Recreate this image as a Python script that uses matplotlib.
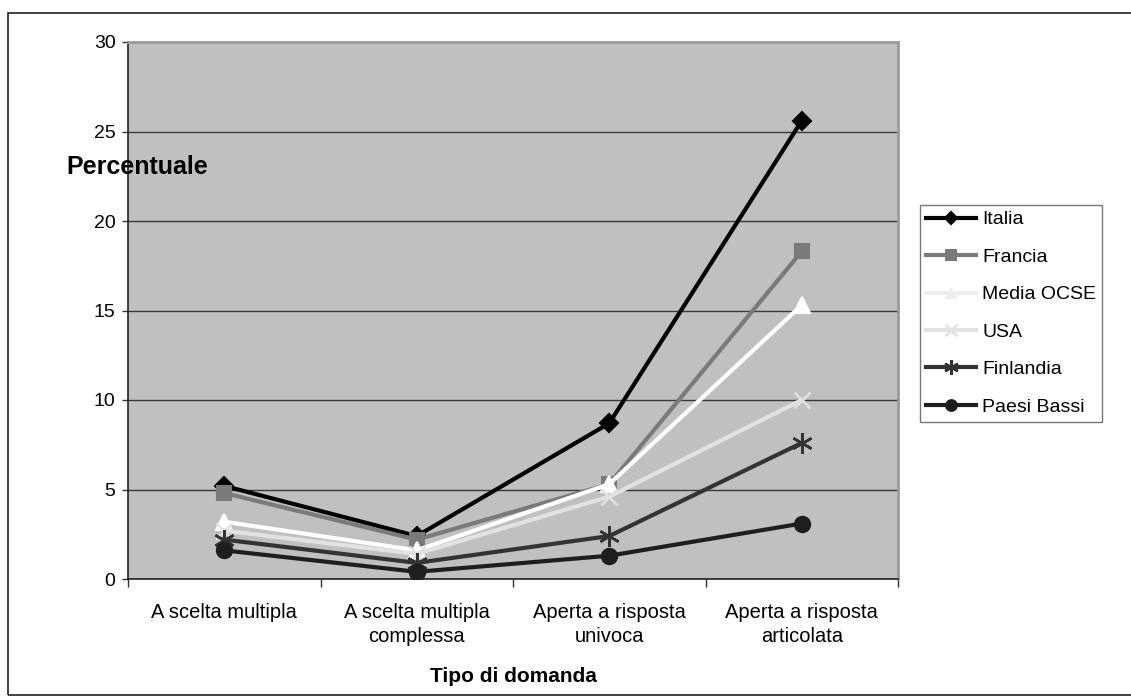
import matplotlib.pyplot as plt
from matplotlib.patches import Rectangle

categories = ["A scelta multipla", "A scelta multipla\ncomplessa",
              "Aperta a risposta\nunivoca", "Aperta a risposta\narticolata"]
series_names = ["Italia", "Francia", "Media OCSE", "USA", "Finlandia", "Paesi Bassi"]
italia = [5.2, 2.4, 8.7, 25.6]
francia = [4.8, 2.2, 5.3, 18.3]
media_ocse = [3.2, 1.6, 5.3, 15.3]
usa = [2.7, 1.4, 4.6, 10.0]
finlandia = [2.2, 0.9, 2.4, 7.6]
paesi_bassi = [1.6, 0.4, 1.3, 3.1]
y_ticks = [0, 5, 10, 15, 20, 25, 30]

plt.rcParams['font.family'] = ['Liberation Sans', 'DejaVu Sans']

fig = plt.figure(figsize=(11.31, 6.99), dpi=100)
ax = fig.add_axes([128 / 1131, 1 - 579 / 699, 770 / 1131, 537 / 699])
ax.set_facecolor('#c0c0c0')

x = range(len(categories))
styles = [
    (italia, '#000000', 'D', 9),
    (francia, '#7a7a7a', 's', 10),
    (media_ocse, '#ffffff', '^', 11),
    (usa, '#e2e2e2', 'x', 12),
    (finlandia, '#333333', (6, 2, 0), 15),
    (paesi_bassi, '#1e1e1e', 'o', 11),
]
for name, (vals, col, mk, ms) in zip(series_names, styles):
    ax.plot(x, vals, color=col, marker=mk, markersize=ms, linewidth=3,
            markeredgewidth=1.5 if mk not in ('x', (6, 2, 0)) else 1.8,
            markerfacecolor=col, markeredgecolor=col, label=name, zorder=3)

ax.set_xlim(-0.5, 3.5)
ax.set_ylim(0, 30)
ax.set_yticks(y_ticks)
ax.set_yticklabels([str(t) for t in y_ticks], fontsize=14)
ax.yaxis.grid(True, color='#3a3a3a', linewidth=1)
ax.set_axisbelow(True)
ax.set_xticks([i + 0.5 for i in range(-1, 4)], minor=False)
ax.set_xticklabels([''] * 5)
ax.set_xticks(list(x), minor=True)
ax.set_xticklabels(categories, minor=True, fontsize=14.5, linespacing=1.35)
ax.tick_params(axis='x', which='minor', length=0, pad=17)
ax.tick_params(axis='x', which='major', length=6, width=1, color='#333333')
ax.tick_params(axis='y', length=4, width=1, color='#333333', pad=5)

for side in ('top', 'right'):
    ax.spines[side].set_color('#9a9a9a')
    ax.spines[side].set_linewidth(2)
ax.spines['left'].set_color('#222222')
ax.spines['bottom'].set_color('#222222')
ax.spines['left'].set_linewidth(1.2)
ax.spines['bottom'].set_linewidth(1.2)

fig.text(66 / 1131, 1 - 167 / 699, "Percentuale", fontsize=18, fontweight='bold',
         ha='left', va='center')
fig.text(513 / 1131, 1 - 676 / 699, "Tipo di domanda", fontsize=15, fontweight='bold',
         ha='center', va='center')

leg = fig.legend(loc='upper left', bbox_to_anchor=(920 / 1131, 1 - 205 / 699),
                 fontsize=14, frameon=True, fancybox=False, edgecolor='#555555',
                 handlelength=2.6, labelspacing=1.02, borderpad=0.3,
                 handletextpad=0.3, borderaxespad=0, markerscale=0.7)
leg.get_frame().set_linewidth(1)
leg.get_lines()[2].set_color('#eeeeee')
leg.get_lines()[2].set_markerfacecolor('#eeeeee')
leg.get_lines()[2].set_markeredgecolor('#eeeeee')

fig.patches.append(Rectangle((8 / 1131, 4 / 699), 1.2, 1 - 17 / 699,
                             transform=fig.transFigure, fill=False,
                             edgecolor='#222222', linewidth=1.2))

fig.savefig('out.png', dpi=100)
